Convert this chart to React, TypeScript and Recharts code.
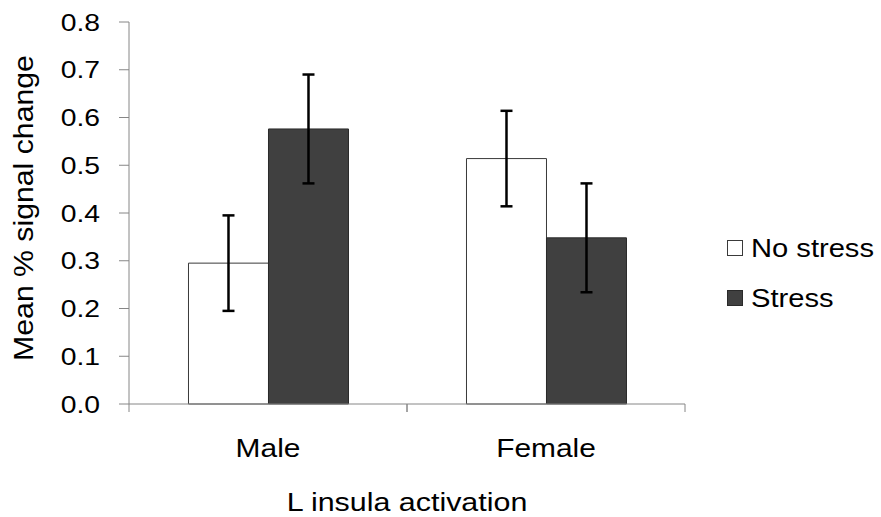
import { Bar, BarChart, ErrorBar, Legend, XAxis, YAxis } from "recharts";

const groups = ["Male", "Female"];
const noStress = [0.295, 0.514];
const noStressErr = [0.1, 0.1];
const stress = [0.576, 0.348];
const stressErr = [0.114, 0.114];
const yTicks = [0, 0.1, 0.2, 0.3, 0.4, 0.5, 0.6, 0.7, 0.8];

const data = groups.map((group, i) => ({
  group,
  noStress: noStress[i],
  noStressErr: noStressErr[i],
  stress: stress[i],
  stressErr: stressErr[i],
}));

const series = [
  { key: "noStress", errKey: "noStressErr", name: "No stress", fill: "#ffffff", stroke: "#3a3a3a" },
  { key: "stress", errKey: "stressErr", name: "Stress", fill: "#404040", stroke: "#2a2a2a" },
];

const FONT = "'Liberation Sans', Arial, sans-serif";
const AXIS = "#868686";

// excel-style text is a bit wider than Arial, so glyphs get stretched sideways
function StretchText({ x, y, size, sx, anchor = "middle", rotate = 0, dy, children }: any) {
  const rot = rotate ? ` rotate(${rotate})` : "";
  return (
    <text
      transform={`translate(${x},${y})${rot} scale(${sx},1)`}
      textAnchor={anchor}
      dy={dy}
      fontSize={size}
      fontFamily={FONT}
      fill="#000"
    >
      {children}
    </text>
  );
}

function YTick({ x, y, payload }: any) {
  return (
    <StretchText x={x} y={y} size={24} sx={1.18} anchor="end" dy="0.36em">
      {Number(payload.value).toFixed(1)}
    </StretchText>
  );
}

// category label plus tick marks on the band edges
function XTick({ x, y, payload }: any) {
  const half = payload.offset ?? 0;
  return (
    <g>
      <line x1={x - half} y1={y} x2={x - half} y2={y + 8} stroke={AXIS} />
      <line x1={x + half} y1={y} x2={x + half} y2={y + 8} stroke={AXIS} />
      <StretchText x={x} y={y + 53} size={26} sx={1.15}>
        {payload.value}
      </StretchText>
    </g>
  );
}

function XTitle({ viewBox }: any) {
  const { x, y, width } = viewBox;
  return (
    <StretchText x={x + width / 2} y={y + 107} size={26} sx={1.17}>
      L insula activation
    </StretchText>
  );
}

function YTitle({ viewBox }: any) {
  const { y, height } = viewBox;
  return (
    <StretchText x={33} y={y + height / 2 - 5} size={28} sx={1.08} rotate={-90}>
      Mean % signal change
    </StretchText>
  );
}

function LegendBox() {
  return (
    <div style={{ fontFamily: FONT, fontSize: 26, color: "#000" }}>
      {series.map((s) => (
        <div key={s.key} style={{ display: "flex", alignItems: "center", height: 50 }}>
          <span
            style={{
              display: "inline-block",
              width: 14,
              height: 14,
              background: s.fill,
              border: `1px solid ${s.stroke}`,
              marginRight: 8,
            }}
          />
          <span style={{ display: "inline-block", transform: "scaleX(1.12)", transformOrigin: "left center" }}>
            {s.name}
          </span>
        </div>
      ))}
    </div>
  );
}

export default function App() {
  return (
    <div style={{ position: "absolute", left: 0, top: 0, width: 881, height: 517, background: "#fff" }}>
      <BarChart
        width={881}
        height={517}
        data={data}
        margin={{ top: 22, right: 196, left: 0, bottom: 0 }}
        barCategoryGap="21.4%"
        barGap={0}
      >
        <XAxis
          dataKey="group"
          height={113}
          axisLine={{ stroke: AXIS }}
          tickLine={false}
          tickSize={0}
          tickMargin={0}
          tick={<XTick />}
          interval={0}
          label={{ content: <XTitle /> }}
        />
        <YAxis
          width={129}
          domain={[0, 0.8]}
          ticks={yTicks}
          interval={0}
          axisLine={{ stroke: AXIS }}
          tickLine={{ stroke: AXIS }}
          tickSize={10}
          tickMargin={19}
          tick={<YTick />}
          label={{ content: <YTitle /> }}
        />
        <Legend
          layout="vertical"
          align="center"
          verticalAlign="middle"
          wrapperStyle={{ left: 727, top: 223, width: 160 }}
          content={<LegendBox />}
        />
        {series.map((s) => (
          <Bar
            key={s.key}
            dataKey={s.key}
            name={s.name}
            fill={s.fill}
            stroke={s.stroke}
            strokeWidth={1}
            isAnimationActive={false}
          >
            <ErrorBar dataKey={s.errKey} width={6} stroke="#000" strokeWidth={2.5} />
          </Bar>
        ))}
      </BarChart>
    </div>
  );
}
